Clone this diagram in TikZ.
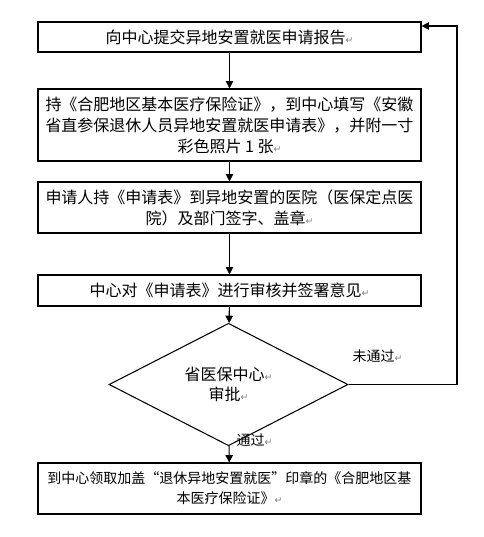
\documentclass[tikz,border=0pt]{standalone}
\usepackage{fontspec}
\usepackage{xcolor}
\setmainfont{Noto Sans CJK SC}
\newfontfamily\symfont{DejaVu Sans}
\usetikzlibrary{shapes.geometric,arrows.meta}
\newcommand{\ret}{{\symfont\color{gray}\fontsize{7}{7}\selectfont ↵}}

\begin{document}
\begin{tikzpicture}[x=0.75pt,y=-0.75pt,line width=0.8pt,
  box/.style={draw,minimum width=287.25pt,inner sep=0pt,align=center,font=\fontsize{12}{15.75}\selectfont},
  decision/.style={draw,diamond,minimum width=179.25pt,minimum height=69.75pt,inner sep=0pt,align=center,font=\fontsize{12}{15}\selectfont},
  arrow/.style={-{Triangle[length=5.5pt,width=5.5pt]}},
  lbl/.style={anchor=west,inner sep=0pt,font=\fontsize{10.5}{12}\selectfont}]
\useasboundingbox (0,0) rectangle (484,537);
\node[box,minimum height=22.5pt] (s1) at (229.5,37) {向中心提交异地安置就医申请报告\ret};
\node[box,minimum height=54pt] (s2) at (229.5,125) {持《合肥地区基本医疗保险证》，到中心填写《安徽\\省直参保退休人员异地安置就医申请表》，并附一寸\\彩色照片 1 张\ret};
\node[box,minimum height=38.25pt] (s3) at (229.5,207.5) {申请人持《申请表》到异地安置的医院（医保定点医\\院）及部门签字、盖章\ret};
\node[box,minimum height=23.25pt] (s4) at (229.5,290.5) {中心对《申请表》进行审核并签署意见\ret};
\node[decision] (d) at (228.5,384.5) {省医保中心\ret\\审批\ret};
\node[box,minimum height=38.25pt,font=\fontsize{10.5}{15}\selectfont] (s5) at (229.5,488.5) {到中心领取加盖“退休异地安置就医”印章的《合肥地区基\\本医疗保险证》\ret};
\node[lbl] (fail) at (352,356) {未通过\ret};
\node[lbl] (pass) at (236,440) {通过\ret};
\coordinate (back) at (457,26);
\draw[arrow] (s1) -- (s2);
\draw[arrow] (s2) -- (s3);
\draw[arrow] (s3) -- (s4);
\draw[arrow] (s4) -- (d);
\draw[arrow] (d) -- (s5);
\draw[arrow] (d.east) -| (back) -- (s1.east |- back);
\end{tikzpicture}
\end{document}
